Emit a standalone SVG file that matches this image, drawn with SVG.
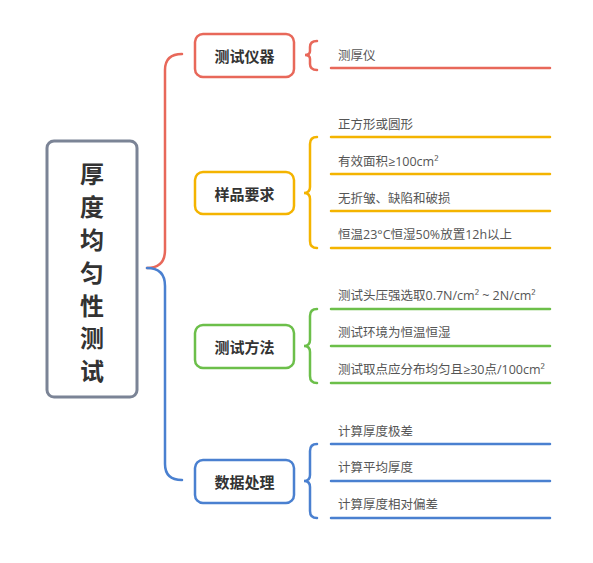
<svg xmlns="http://www.w3.org/2000/svg" width="593" height="563" viewBox="0 0 593 563">
<style>
.root{fill:#fff;stroke:#7b8496;stroke-width:3}
.cat{fill:#fff;stroke-width:2.5}
.ct{font-family:"Noto Sans CJK SC","Noto Sans",sans-serif;font-size:15px;font-weight:bold;fill:#333;text-anchor:middle;dominant-baseline:central}
.rt{font-family:"Noto Sans CJK SC","Noto Sans",sans-serif;font-size:24px;font-weight:bold;fill:#333;text-anchor:middle;dominant-baseline:central}
.lt{font-family:"Open Sans","Noto Sans CJK SC",sans-serif;font-size:12.5px;fill:#555;dominant-baseline:central}
.ln{fill:none;stroke-width:2.5;stroke-linecap:round}
.r{stroke:#e8685a}.y{stroke:#f4b400}.g{stroke:#6cbf4a}.b{stroke:#4a80d0}
</style>
<rect width="593" height="563" fill="#fff"/>
<g id="connectors">
<path class="ln r" d="M147,268 Q165,268 165,250 L165,70 Q165,54 182,54"/>
<path class="ln b" d="M147,268 Q165,268 165,286 L165,464 Q165,480 182,480"/>
<path class="ln r" d="M317,41 Q310,41 310,47 L310,51 Q310,55 305,55 Q310,55 310,59 L310,64 Q310,70 317,70"/>
<path class="ln y" d="M317,137 Q310,137 310,144 L310,187 Q310,193 304,193 Q310,193 310,199 L310,241 Q310,248 317,248"/>
<path class="ln g" d="M317,309 Q310,309 310,316 L310,340 Q310,346 304,346 Q310,346 310,352 L310,376 Q310,383 317,383"/>
<path class="ln b" d="M317,444 Q310,444 310,451 L310,475 Q310,481 304,481 Q310,481 310,487 L310,511 Q310,518 317,518"/>
</g>
<g id="root">
<rect class="root" x="47" y="141" width="90" height="256" rx="7"/>
<text class="rt" x="92" y="172"><tspan x="92" y="172">厚</tspan><tspan x="92" y="205">度</tspan><tspan x="92" y="238">均</tspan><tspan x="92" y="271">匀</tspan><tspan x="92" y="304">性</tspan><tspan x="92" y="336">测</tspan><tspan x="92" y="369">试</tspan></text>
</g>
<g id="cat1">
<rect class="cat r" x="195" y="34" width="99" height="43" rx="8"/>
<text class="ct" x="244.5" y="55.5">测试仪器</text>
</g>
<g id="cat2">
<rect class="cat y" x="195" y="172" width="99" height="42" rx="8"/>
<text class="ct" x="244.5" y="193">样品要求</text>
</g>
<g id="cat3">
<rect class="cat g" x="195" y="325" width="99" height="43" rx="8"/>
<text class="ct" x="244.5" y="346.5">测试方法</text>
</g>
<g id="cat4">
<rect class="cat b" x="195" y="460" width="99" height="43" rx="8"/>
<text class="ct" x="244.5" y="481.5">数据处理</text>
</g>
<g id="leaf1">
<text class="lt" x="338" y="55">测厚仪</text>
<line class="ln r" x1="331" y1="68" x2="550" y2="68"/>
</g>
<g id="leaf2">
<text class="lt" x="338" y="124">正方形或圆形</text>
<line class="ln y" x1="331" y1="137" x2="550" y2="137"/>
</g>
<g id="leaf3">
<text class="lt" x="338" y="161">有效面积≥100cm²</text>
<line class="ln y" x1="331" y1="174" x2="550" y2="174"/>
</g>
<g id="leaf4">
<text class="lt" x="338" y="198">无折皱、缺陷和破损</text>
<line class="ln y" x1="331" y1="211" x2="550" y2="211"/>
</g>
<g id="leaf5">
<text class="lt" x="338" y="234">恒温23°C恒湿50%放置12h以上</text>
<line class="ln y" x1="331" y1="248" x2="550" y2="248"/>
</g>
<g id="leaf6">
<text class="lt" x="338" y="295">测试头压强选取0.7N/cm² ~ 2N/cm²</text>
<line class="ln g" x1="331" y1="309" x2="550" y2="309"/>
</g>
<g id="leaf7">
<text class="lt" x="338" y="332">测试环境为恒温恒湿</text>
<line class="ln g" x1="331" y1="346" x2="550" y2="346"/>
</g>
<g id="leaf8">
<text class="lt" x="338" y="369">测试取点应分布均匀且≥30点/100cm²</text>
<line class="ln g" x1="331" y1="383" x2="550" y2="383"/>
</g>
<g id="leaf9">
<text class="lt" x="338" y="431">计算厚度极差</text>
<line class="ln b" x1="331" y1="444" x2="550" y2="444"/>
</g>
<g id="leaf10">
<text class="lt" x="338" y="467">计算平均厚度</text>
<line class="ln b" x1="331" y1="481" x2="550" y2="481"/>
</g>
<g id="leaf11">
<text class="lt" x="338" y="504">计算厚度相对偏差</text>
<line class="ln b" x1="331" y1="518" x2="550" y2="518"/>
</g>
</svg>
